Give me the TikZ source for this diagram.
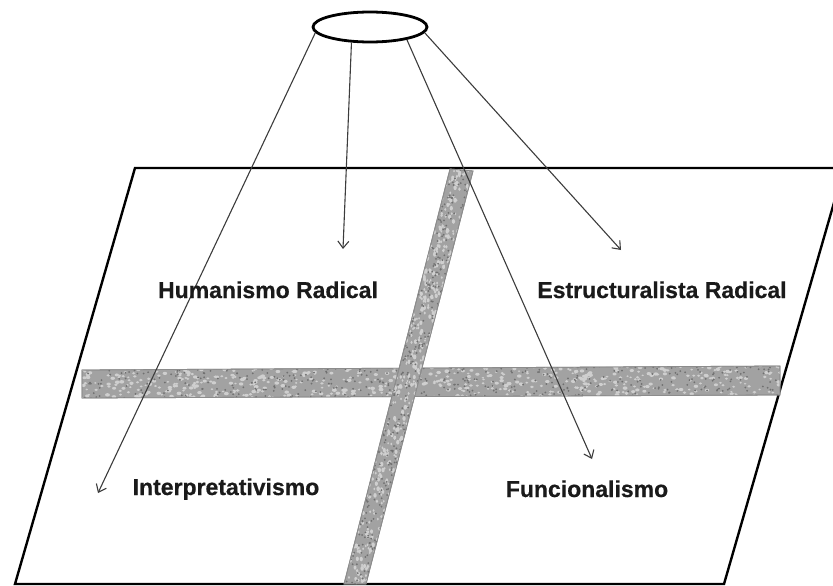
\documentclass[tikz,border=0pt]{standalone}
\usepackage{fontspec}
\setmainfont{Liberation Sans}
\newfontfamily\lblfont[FakeBold=0.6]{Liberation Sans Bold}
\usetikzlibrary{arrows.meta,shapes.geometric}
\definecolor{bandbase}{HTML}{A2A2A2}
\definecolor{bandlight}{HTML}{CFCFCF}
\definecolor{banddark}{HTML}{707070}
\definecolor{bandedge}{HTML}{8C8C8C}
\definecolor{arrowcol}{HTML}{3C3C3C}
\definecolor{textcol}{HTML}{1A1A1A}
\tikzset{
  plane/.style={draw=black, line width=2.4pt, line join=miter},
  lens/.style={ellipse, draw=black, line width=2.8pt, minimum width=114pt, minimum height=30pt, inner sep=0pt},
  band/.style={fill=bandbase, draw=bandedge, line width=0.8pt},
  ray/.style={draw=arrowcol, line width=1.1pt, -{Straight Barb[length=7pt,width=11pt,line width=1.1pt]}},
  quadlabel/.style={font=\lblfont\fontsize{23}{26}\selectfont, text=textcol, inner sep=0pt, anchor=base}
}
\begin{document}
\begin{tikzpicture}[x=1pt,y=-1pt]
\useasboundingbox (0,0) rectangle (833,586);
\clip (0,0) rectangle (833,586);
\pgfmathsetseed{7}
% plane
\draw[plane] (135,168) -- (844,168) -- (724,584) -- (15,584) -- cycle;
% horizontal band
\path[band] (82,370) -- (780,366) -- (780,395) -- (82,398) -- cycle;
\begin{scope}
  \clip (82,370) -- (780,366) -- (780,395) -- (82,398) -- cycle;
  \foreach \i in {1,...,650} {
    \pgfmathsetmacro\xx{82+698*rnd}
    \pgfmathsetmacro\yy{365+34*rnd}
    \pgfmathsetmacro\rr{1.2+1.3*rnd}
    \fill[bandlight] (\xx,\yy) ellipse ({\rr pt} and {0.7*\rr pt});
  }
  \foreach \i in {1,...,450} {
    \pgfmathsetmacro\xx{82+698*rnd}
    \pgfmathsetmacro\yy{365+34*rnd}
    \fill[banddark] (\xx,\yy) circle (1.0pt);
  }
\end{scope}
\path[draw=bandedge, line width=0.8pt] (82,370) -- (780,366) -- (780,395) -- (82,398) -- cycle;
% vertical band
\path[band] (450,169) -- (473,171) -- (366,584) -- (344,584) -- cycle;
\begin{scope}
  \clip (450,169) -- (473,171) -- (366,584) -- (344,584) -- cycle;
  \foreach \i in {1,...,450} {
    \pgfmathsetmacro\yy{168+417*rnd}
    \pgfmathsetmacro\xx{461-0.257*(\yy-170)-13+26*rnd}
    \pgfmathsetmacro\rr{1.2+1.3*rnd}
    \fill[bandlight] (\xx,\yy) ellipse ({0.7*\rr pt} and {\rr pt});
  }
  \foreach \i in {1,...,320} {
    \pgfmathsetmacro\yy{168+417*rnd}
    \pgfmathsetmacro\xx{461-0.257*(\yy-170)-13+26*rnd}
    \fill[banddark] (\xx,\yy) circle (1.0pt);
  }
\end{scope}
\path[draw=bandedge, line width=0.8pt] (450,169) -- (473,171) -- (366,584) -- (344,584) -- cycle;
% lens
\node[lens] (e) at (370,27) {};
% arrow targets
\coordinate (t1) at (98,493);
\coordinate (t2) at (343,249);
\coordinate (t3) at (592,459);
\coordinate (t4) at (621,250);
\draw[ray] (e.186) -- (t1);
\draw[ray] (e.220) -- (t2);
\draw[ray] (e.341) -- (t3);
\draw[ray] (e.354) -- (t4);
% labels
\node[quadlabel] (hr) at (268,298) {Humanismo Radical};
\node[quadlabel] (er) at (662,298) {Estructuralista Radical};
\node[quadlabel] (it) at (226,495) {Interpretativismo};
\node[quadlabel] (fu) at (587,497) {Funcionalismo};
\end{tikzpicture}
\end{document}
